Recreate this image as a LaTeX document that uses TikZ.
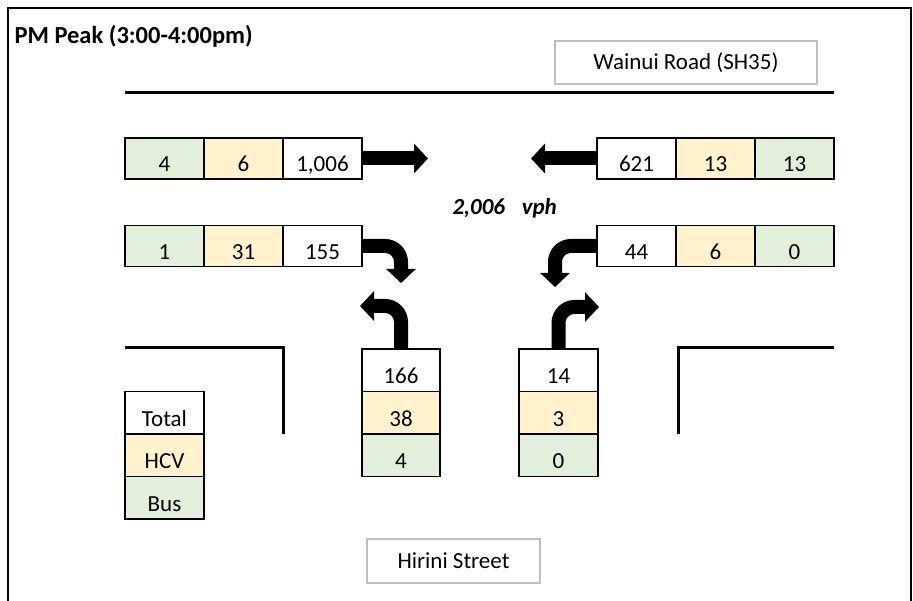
\documentclass[tikz,border=0pt]{standalone}
\usepackage{fontspec}
\setmainfont{Carlito}
\usetikzlibrary{arrows.meta}
\definecolor{hcvyellow}{HTML}{FFF2CC}
\definecolor{busgreen}{HTML}{E2EFDA}
\definecolor{labelgray}{HTML}{BFBFBF}

\begin{document}
\begin{tikzpicture}[
  x=1pt, y=-1pt,
  every node/.style={font=\fontsize{23}{27}\selectfont},
  cell/.style={draw, line width=1.5pt, minimum width=79pt, minimum height=41pt,
    inner sep=0pt, text height=27pt, text depth=0pt},
  tall/.style={minimum height=42.5pt},
  totc/.style={cell, fill=white},
  hcvc/.style={cell, fill=hcvyellow},
  busc/.style={cell, fill=busgreen},
  namebox/.style={draw=labelgray, line width=1.2pt, inner sep=0pt},
  road/.style={line width=3pt},
  flow/.style={line width=14pt, -{Triangle[width=29pt,length=14pt]}}
]
\useasboundingbox (0,0) rectangle (913,601);

\draw[line width=2.5pt] (8,601) -- (8,8) -- (911,8) -- (911,601);

\node[anchor=base west, font=\fontsize{24.5}{29}\selectfont\bfseries] (title) at (11,44) {PM Peak (3:00-4:00pm)};
\node[namebox, minimum width=262pt, minimum height=43pt] (wainui) at (686,62.5) {Wainui Road (SH35)};
\node[namebox, minimum width=173pt, minimum height=44pt] (hirini) at (453.5,561) {Hirini Street};
\node[anchor=base west, font=\fontsize{23}{27}\selectfont\bfseries\itshape] (vph) at (449,215) {2,006\enspace\ vph};

% road edges
\draw[road] (125,93) -- (834,93);
\draw[road] (125,348) -- (283,348) -- (283,434);
\draw[road] (834,348) -- (678,348) -- (678,434);

% west approach
\node[busc] (WTb) at (164.5,158.5) {4};
\node[hcvc] (WTh) at (243.5,158.5) {6};
\node[totc] (WT) at (322.5,158.5) {1,006};
\node[busc] (WLb) at (164.5,246) {1};
\node[hcvc] (WLh) at (243.5,246) {31};
\node[totc] (WL) at (322.5,246) {155};

% east approach
\node[totc] (ET) at (636.5,158.5) {621};
\node[hcvc] (ETh) at (715.5,158.5) {13};
\node[busc] (ETb) at (794.5,158.5) {13};
\node[totc] (ER) at (636.5,246) {44};
\node[hcvc] (ERh) at (715.5,246) {6};
\node[busc] (ERb) at (794.5,246) {0};

% south approach
\node[totc, tall, minimum width=78pt] (SL) at (401,370.25) {166};
\node[hcvc, tall, minimum width=78pt] (SLh) at (401,412.75) {38};
\node[busc, tall, minimum width=78pt] (SLb) at (401,455.25) {4};
\node[totc, tall] (SR) at (558.5,370.25) {14};
\node[hcvc, tall] (SRh) at (558.5,412.75) {3};
\node[busc, tall] (SRb) at (558.5,455.25) {0};

% legend
\node[totc, tall] (keyT) at (164.5,412.75) {Total};
\node[hcvc, tall] (keyH) at (164.5,455.25) {HCV};
\node[busc, tall] (keyB) at (164.5,497.75) {Bus};

% arrow ends
\coordinate (wtTip) at (428,158.5);
\coordinate (etTip) at (531,158.5);
\coordinate (wlTip) at (401,283);
\coordinate (erTip) at (555,287);
\coordinate (slTip) at (360,306);
\coordinate (srTip) at (599,307);

\draw[flow] (WT) -- (wtTip);
\draw[flow] (ET) -- (etTip);
\draw[flow, rounded corners=16pt] (WL.east) -| (wlTip);
\draw[flow, rounded corners=16pt] (ER.west) -| (erTip);
\draw[flow, rounded corners=16pt] (SL.north) |- (slTip);
\draw[flow, rounded corners=16pt] (SR.north) |- (srTip);

\end{tikzpicture}
\end{document}
